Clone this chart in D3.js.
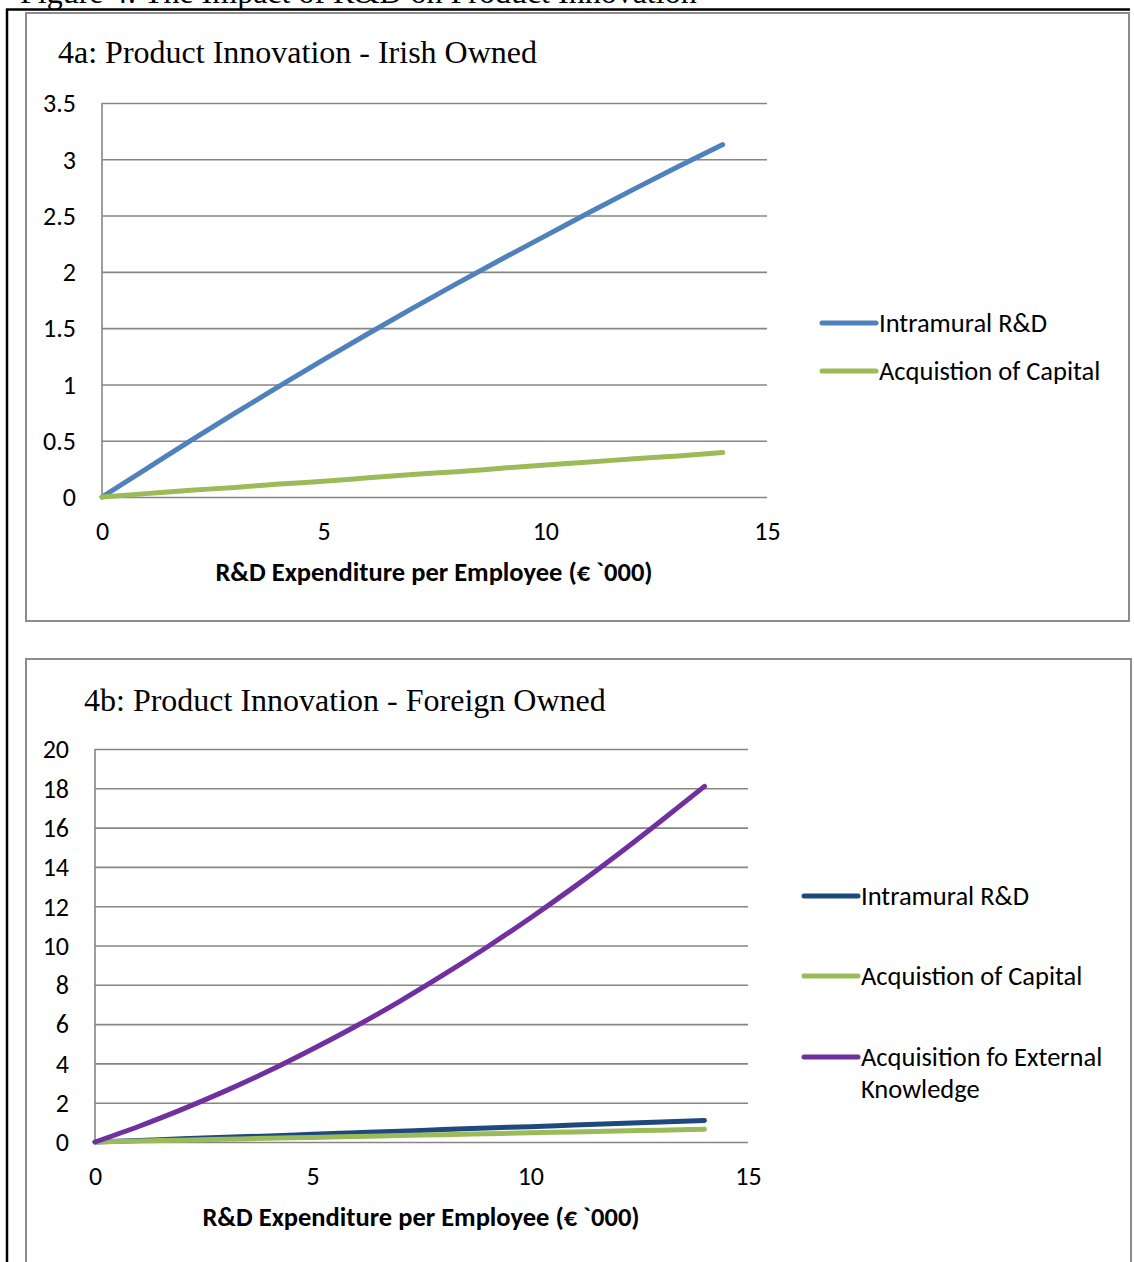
<!DOCTYPE html>
<html>
<head>
<meta charset="utf-8">
<script src="https://cdn.jsdelivr.net/npm/d3@7"></script>
<style>
  html, body { margin: 0; padding: 0; background: #fff; }
  svg { display: block; }
</style>
</head>
<body>
<svg id="fig" width="1134" height="1262"></svg>
<script>
// R&D expenditure per employee (€ '000) at which each curve is evaluated
const rdSpend = [0, 1, 2, 3, 4, 5, 6, 7, 8, 9, 10, 11, 12, 13, 14];

// 4a: Irish owned firms
const irishIntramural = [0, 0.25, 0.50, 0.745, 0.985, 1.22, 1.45, 1.675, 1.895, 2.11, 2.32, 2.53, 2.735, 2.935, 3.13];
const irishCapital    = [0, 0.03, 0.06, 0.085, 0.115, 0.14, 0.17, 0.20, 0.225, 0.255, 0.285, 0.31, 0.34, 0.365, 0.395];

// 4b: Foreign owned firms
const foreignIntramural = [0, 0.08, 0.16, 0.24, 0.31, 0.39, 0.47, 0.55, 0.63, 0.71, 0.78, 0.86, 0.94, 1.02, 1.10];
const foreignCapital    = [0, 0.05, 0.09, 0.14, 0.19, 0.23, 0.28, 0.33, 0.37, 0.42, 0.47, 0.51, 0.56, 0.60, 0.65];
const foreignExternal   = [0, 0.79, 1.66, 2.60, 3.62, 4.73, 5.90, 7.16, 8.50, 9.91, 11.40, 12.97, 14.62, 16.34, 18.10];

// axis ticks
const xTicks = [0, 5, 10, 15];
const yTicksA = [0, 0.5, 1, 1.5, 2, 2.5, 3, 3.5];
const yTicksB = [0, 2, 4, 6, 8, 10, 12, 14, 16, 18, 20];

const figureTitle = "Figure 4: The Impact of R&D on Product Innovation";
const titleA = "4a: Product Innovation - Irish Owned";
const titleB = "4b: Product Innovation - Foreign Owned";
const xAxisTitle = "R&D Expenditure per Employee (€ `000)";

const C = { blue: "#4F81BD", green: "#9BBB59", purple: "#7030A0", navy: "#1F497D", grid: "#868686", frame: "#8c8c8c" };
const SANS = "Carlito, Calibri, Lato, 'Noto Sans', sans-serif";
const SERIF = "'Liberation Serif', 'Times New Roman', serif";
const FS = 26; // label size

const svg = d3.select("#fig");

// page frame and caption
svg.append("text").attr("x", 20).attr("y", 3).attr("font-family", SERIF).attr("font-size", 32)
  .attr("fill", "#000").text(figureTitle);
svg.append("line").attr("x1", 6).attr("x2", 1130).attr("y1", 9.5).attr("y2", 9.5).attr("stroke", "#000").attr("stroke-width", 2.5);
svg.append("line").attr("x1", 7).attr("x2", 7).attr("y1", 9).attr("y2", 1262).attr("stroke", "#000").attr("stroke-width", 2.5);

function panel(cfg) {
  const g = svg.append("g");
  // chart border
  g.append("rect").attr("x", cfg.box[0]).attr("y", cfg.box[1]).attr("width", cfg.box[2]).attr("height", cfg.box[3])
    .attr("fill", "#fff").attr("stroke", C.frame).attr("stroke-width", 2);

  g.append("text").attr("x", cfg.titleX).attr("y", cfg.titleY).attr("font-family", SERIF)
    .attr("font-size", 32).attr("fill", "#000").text(cfg.title);

  const x = d3.scaleLinear().domain([0, 15]).range([cfg.plot.left, cfg.plot.right]);
  const y = d3.scaleLinear().domain(cfg.yDomain).range([cfg.plot.bottom, cfg.plot.top]);

  // horizontal gridlines with value labels
  const yAxis = g.append("g").attr("transform", `translate(${cfg.plot.left},0)`)
    .call(d3.axisLeft(y).tickValues(cfg.yTicks).tickSize(-(cfg.plot.right - cfg.plot.left)).tickPadding(26).tickFormat(d3.format("")));
  yAxis.select(".domain").remove();
  yAxis.selectAll(".tick line").attr("stroke", C.grid).attr("stroke-width", 1.6);
  yAxis.selectAll(".tick text").attr("font-family", SANS).attr("font-size", FS).attr("fill", "#000").attr("dy", "0.34em");

  // vertical axis line
  g.append("line").attr("x1", x(0)).attr("x2", x(0)).attr("y1", y(cfg.yDomain[1])).attr("y2", y(0))
    .attr("stroke", C.grid).attr("stroke-width", 1.6);

  // x tick labels
  const xAxis = g.append("g").attr("transform", `translate(0,${cfg.plot.bottom})`)
    .call(d3.axisBottom(x).tickValues(xTicks).tickSize(0).tickPadding(25).tickFormat(d3.format("")));
  xAxis.select(".domain").remove();
  xAxis.selectAll(".tick text").attr("font-family", SANS).attr("font-size", FS).attr("fill", "#000");

  g.append("text").attr("x", cfg.xTitleX).attr("y", cfg.xTitleY).attr("text-anchor", "middle")
    .attr("font-family", SANS).attr("font-weight", "bold").attr("font-size", FS + 0.5).attr("fill", "#000").text(xAxisTitle);

  const line = d3.line().x((d, i) => x(rdSpend[i])).y(d => y(d)).curve(d3.curveMonotoneX);
  cfg.series.forEach(s => {
    g.append("path").datum(s.values).attr("d", line).attr("fill", "none")
      .attr("stroke", s.color).attr("stroke-width", 5).attr("stroke-linecap", "round").attr("stroke-linejoin", "round");
  });

  // legend
  cfg.series.forEach((s, i) => {
    const ly = cfg.legend.y[i];
    g.append("line").attr("x1", cfg.legend.x).attr("x2", cfg.legend.x + 54).attr("y1", ly).attr("y2", ly)
      .attr("stroke", s.color).attr("stroke-width", 5).attr("stroke-linecap", "round");
    const t = g.append("text").attr("x", cfg.legend.x + 57).attr("y", ly + 9)
      .attr("font-family", SANS).attr("font-size", FS + 0.5).attr("fill", "#000");
    s.label.forEach((ln, k) => t.append("tspan").attr("x", cfg.legend.x + 57).attr("dy", k ? 32 : 0).text(ln));
  });
}

panel({
  box: [26, 13, 1103, 608],
  title: titleA, titleX: 58, titleY: 63,
  plot: { left: 102, right: 767, top: 103, bottom: 497 },
  yDomain: [0, 3.5], yTicks: yTicksA,
  xTitleX: 434, xTitleY: 581,
  series: [
    { values: irishIntramural, color: C.blue, label: ["Intramural R&D"] },
    { values: irishCapital, color: C.green, label: ["Acquistion of Capital"] }
  ],
  legend: { x: 822, y: [323, 371] }
});

panel({
  box: [26, 659, 1105, 640],
  title: titleB, titleX: 84, titleY: 711,
  plot: { left: 95, right: 748, top: 749, bottom: 1142 },
  yDomain: [0, 20], yTicks: yTicksB,
  xTitleX: 421, xTitleY: 1226,
  series: [
    { values: foreignIntramural, color: C.navy, label: ["Intramural R&D"] },
    { values: foreignCapital, color: C.green, label: ["Acquistion of Capital"] },
    { values: foreignExternal, color: C.purple, label: ["Acquisition fo External", "Knowledge"] }
  ],
  legend: { x: 804, y: [896, 976, 1057] }
});
</script>
</body>
</html>
